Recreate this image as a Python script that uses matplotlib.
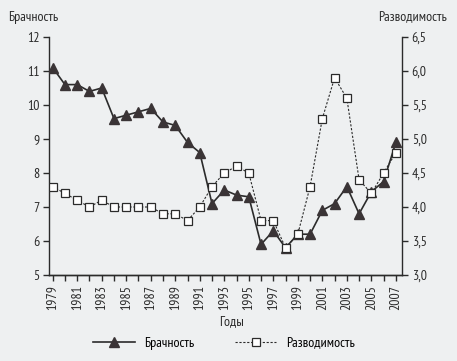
import matplotlib
matplotlib.use("Agg")
import matplotlib.pyplot as plt

years = list(range(1979, 2008))
marriage = [11.1, 10.6, 10.6, 10.4, 10.5, 9.6, 9.7, 9.8, 9.9, 9.5, 9.4, 8.9, 8.6,
            7.1, 7.5, 7.35, 7.3, 5.9, 6.3, 5.8, 6.2, 6.2, 6.9, 7.1, 7.6, 6.8, 7.45, 7.75, 8.9]
divorce = [4.3, 4.2, 4.1, 4.0, 4.1, 4.0, 4.0, 4.0, 4.0, 3.9, 3.9, 3.8, 4.0,
           4.3, 4.5, 4.6, 4.5, 3.8, 3.8, 3.4, 3.6, 4.3, 5.3, 5.9, 5.6, 4.4, 4.2, 4.5, 4.8]
left_ticks = [5, 6, 7, 8, 9, 10, 11, 12]
right_ticks = [3.0, 3.5, 4.0, 4.5, 5.0, 5.5, 6.0, 6.5]
right_labels = ["3,0", "3,5", "4,0", "4,5", "5,0", "5,5", "6,0", "6,5"]

plt.rcParams['font.family'] = ['PT Sans Narrow', 'Roboto Condensed', 'Archivo Narrow',
                               'Liberation Sans', 'DejaVu Sans']
bg = '#eef0f1'
ink = '#2b2b2b'
fig = plt.figure(figsize=(4.57, 3.61), dpi=100, facecolor=bg)
ax = fig.add_axes([49/457, 1-275/361, (402-49)/457, (275-37)/361])
ax.set_facecolor(bg)
ax2 = ax.twinx()

fs = 10
ax.plot(years, marriage, color=ink, lw=1.2, marker='^', ms=6.5,
        markerfacecolor='#3a3436', markeredgecolor='#3a3436', zorder=3, label='Брачность')
ax2.plot(years, divorce, color=ink, lw=0.8, ls=(0, (2, 1.5)), marker='s', ms=5.5,
         markerfacecolor='white', markeredgecolor=ink, markeredgewidth=0.9, zorder=3,
         label='Разводимость')

ax.set_xlim(1978.7, 2007.5)
ax.set_ylim(5, 12)
ax2.set_ylim(3.0, 6.5)
ax.set_yticks(left_ticks)
ax.set_yticklabels([str(t) for t in left_ticks], fontsize=fs)
ax2.set_yticks(right_ticks)
ax2.set_yticklabels(right_labels, fontsize=fs)
ax.set_xticks(years)
ax.set_xticklabels([str(y) if (y - 1979) % 2 == 0 else '' for y in years], rotation=90, fontsize=fs)

for a in (ax, ax2):
    a.spines['top'].set_visible(False)
    for s in a.spines.values():
        s.set_linewidth(1.0)
        s.set_color(ink)
    a.tick_params(direction='out', length=4, width=1.0, color=ink, labelcolor=ink, pad=3)
ax2.spines['left'].set_visible(False)
ax.spines['right'].set_visible(False)

fig.text(8/457, 1-17/361, 'Брачность', fontsize=fs, va='center', ha='left', color=ink)
fig.text(447/457, 1-17/361, 'Разводимость', fontsize=fs, va='center', ha='right', color=ink)
fig.text(232/457, 1-322/361, 'Годы', fontsize=fs, va='center', ha='center', color=ink)

h1, l1 = ax.get_legend_handles_labels()
h2, l2 = ax2.get_legend_handles_labels()
fig.legend(h1 + h2, l1 + l2, loc='center', bbox_to_anchor=(224/457, 1-343/361), ncol=2,
           frameon=False, fontsize=fs, handlelength=3.0, columnspacing=2.9, handletextpad=0.7)

fig.savefig('out.png', dpi=100, facecolor=bg)
